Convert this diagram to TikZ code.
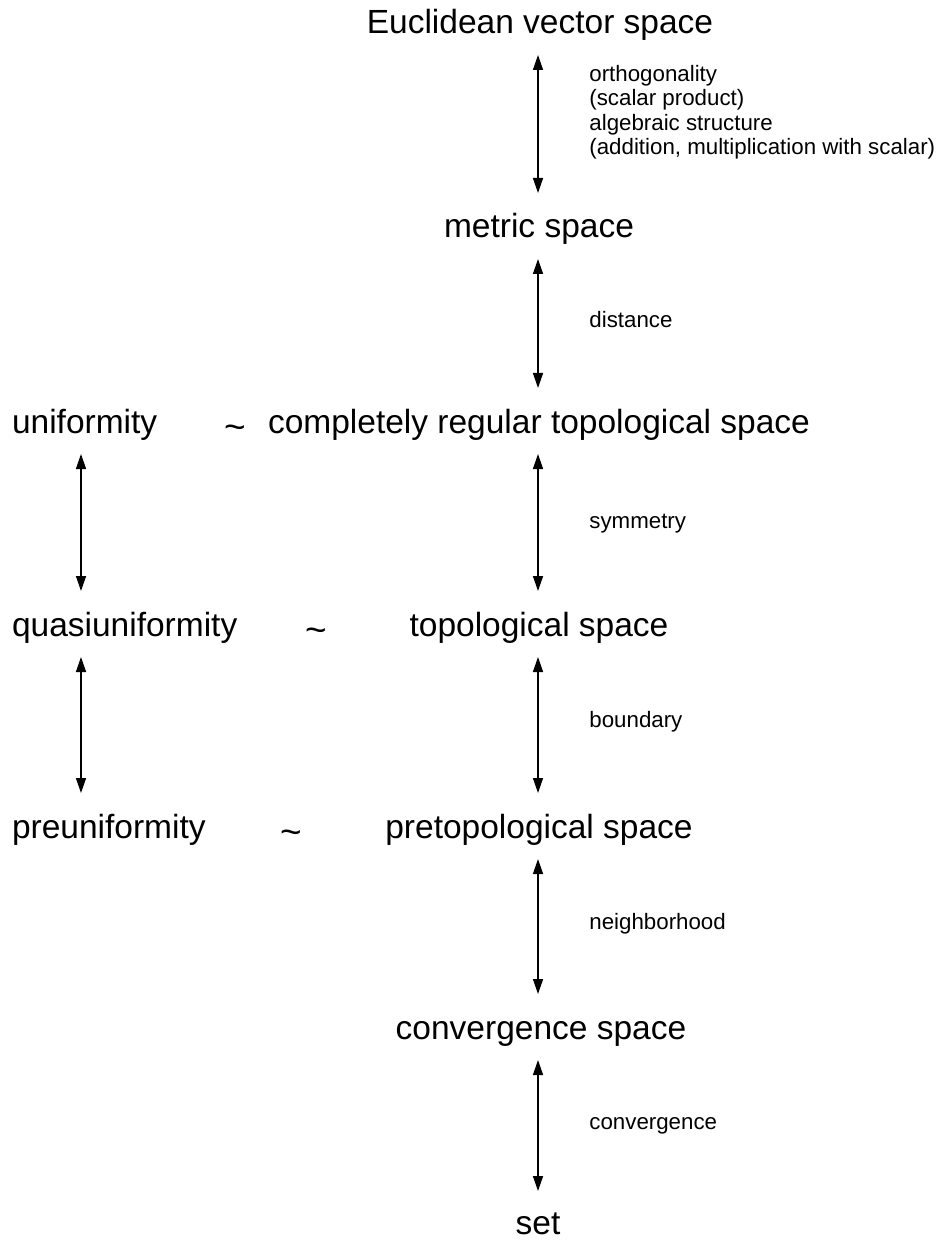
\documentclass[tikz,border=0pt]{standalone}
\usepackage{fontspec}
\setmainfont{Liberation Sans}
\usetikzlibrary{arrows.meta}

\begin{document}
\begin{tikzpicture}[
  x=0.5pt, y=-0.5pt,
  big/.style={inner sep=0pt, outer xsep=0pt, outer ysep=6.5pt,
    text height=16pt, text depth=4pt, anchor=base,
    font=\fontsize{16.75pt}{20pt}\selectfont},
  bigl/.style={big, anchor=base west},
  rel/.style={inner sep=0pt, anchor=base,
    font=\fontsize{16.75pt}{20pt}\selectfont},
  lbl/.style={inner sep=0pt, anchor=base west, align=left,
    font=\fontsize{11.15pt}{12.25pt}\selectfont},
  dbl/.style={line width=0.7pt,
    {Triangle[width=5pt,length=7.5pt]}-{Triangle[width=5pt,length=7.5pt]}}
]
\useasboundingbox (0,0) rectangle (941,1240);

% columns of the vertical arrows
\coordinate (rc) at (538,0);
\coordinate (lc) at (81,0);

% right column: the chain of structures
\node[big] (eu)  at (540,34)   {Euclidean vector space};
\node[big] (met) at (539,238)  {metric space};
\node[big] (crt) at (539,433)  {completely regular topological space};
\node[big] (top) at (539,636)  {topological space};
\node[big] (pre) at (539,838)  {pretopological space};
\node[big] (cvs) at (541,1039) {convergence space};
\node[big, text depth=0pt] (set) at (538,1234) {set};

% left column: uniform structures
\node[bigl] (uni)  at (12,433) {uniformity};
\node[bigl] (quni) at (12,636) {quasiuniformity};
\node[bigl] (puni) at (12,838) {preuniformity};

% correspondences
\node[rel] (s1) at (235,433) {\raisebox{-0.18em}{\scalebox{1.1}{\textasciitilde}}};
\node[rel] (s2) at (316,636) {\raisebox{-0.18em}{\scalebox{1.1}{\textasciitilde}}};
\node[rel] (s3) at (291,838) {\raisebox{-0.18em}{\scalebox{1.1}{\textasciitilde}}};

% arrows of the chain
\draw[dbl] (eu.south -| rc)  -- (met.north -| rc);
\draw[dbl] (met.south -| rc) -- (crt.north -| rc);
\draw[dbl] (crt.south -| rc) -- (top.north -| rc);
\draw[dbl] (top.south -| rc) -- (pre.north -| rc);
\draw[dbl] (pre.south -| rc) -- (cvs.north -| rc);
\draw[dbl] (cvs.south -| rc) -- ([yshift=-1pt]set.north -| rc);

\draw[dbl] (uni.south -| lc)  -- (quni.north -| lc);
\draw[dbl] (quni.south -| lc) -- (puni.north -| lc);

% what each step adds (a multi-line node sits on its last baseline)
\node[lbl] (l1) at (589,155) {orthogonality\\(scalar product)\\algebraic structure\\(addition, multiplication with scalar)};
\node[lbl] (l2) at (589,328)  {distance};
\node[lbl] (l3) at (589,528)  {symmetry};
\node[lbl] (l4) at (589,727)  {boundary};
\node[lbl] (l5) at (589,929)  {neighborhood};
\node[lbl] (l6) at (589,1129) {convergence};
\end{tikzpicture}
\end{document}
